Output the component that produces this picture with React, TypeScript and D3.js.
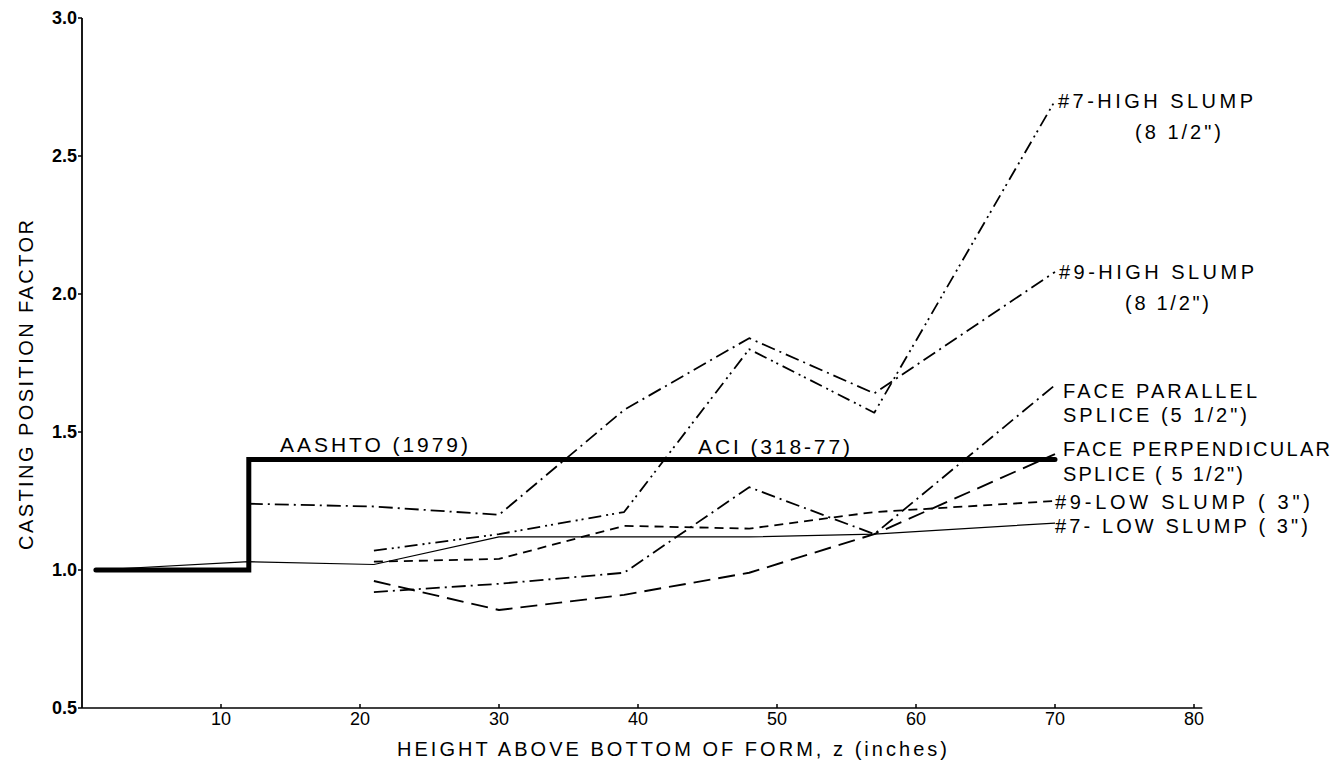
import React from "react";
import * as d3 from "d3";

// Axis ticks
const X_TICKS = [10, 20, 30, 40, 50, 60, 70, 80];
const Y_TICKS = [0.5, 1.0, 1.5, 2.0, 2.5, 3.0];

// Code provisions (AASHTO 1979 below 12 in., ACI 318-77 above)
const CODE_Z = [1, 12, 70];
const CODE_FACTOR = [1.0, 1.4, 1.4];

// Measured casting position factors vs. height above bottom of form (in.)
const HIGH7_Z = [21, 30, 39, 48, 57, 70];
const HIGH7 = [1.07, 1.13, 1.21, 1.8, 1.57, 2.7];

const HIGH9_Z = [12, 21, 30, 39, 48, 57, 70];
const HIGH9 = [1.24, 1.23, 1.2, 1.58, 1.84, 1.64, 2.08];

const PARALLEL_Z = [21, 30, 39, 48, 57, 70];
const PARALLEL = [0.92, 0.95, 0.99, 1.3, 1.13, 1.67];

const PERP_Z = [21, 30, 39, 48, 57, 70];
const PERP = [0.96, 0.855, 0.91, 0.99, 1.13, 1.42];

const LOW9_Z = [21, 30, 39, 48, 57, 70];
const LOW9 = [1.03, 1.04, 1.16, 1.15, 1.21, 1.25];

const LOW7_Z = [1, 12, 21, 30, 48, 57, 70];
const LOW7 = [1.0, 1.03, 1.02, 1.12, 1.12, 1.13, 1.17];

const FONT = "'Liberation Sans', Arial, sans-serif";

type Pt = [number, number];
const zip = (zs: number[], vs: number[]): Pt[] => zs.map((z, i) => [z, vs[i]]);

export default function App() {
  const W = 1339;
  const H = 765;
  const x = d3.scaleLinear().domain([0, 80]).range([82, 1194]);
  const y = d3.scaleLinear().domain([0.5, 3.0]).range([708, 18]);

  const line = d3
    .line<Pt>()
    .x((d) => x(d[0]))
    .y((d) => y(d[1]));
  const step = d3
    .line<Pt>()
    .x((d) => x(d[0]))
    .y((d) => y(d[1]))
    .curve(d3.curveStepAfter);

  const series = [
    { pts: zip(HIGH7_Z, HIGH7), dash: "13,5,2,4,2,5", w: 1.8 },
    { pts: zip(HIGH9_Z, HIGH9), dash: "14,5,2,5", w: 1.8 },
    { pts: zip(PARALLEL_Z, PARALLEL), dash: "14,5,2,5", w: 1.8 },
    { pts: zip(PERP_Z, PERP), dash: "17,8", w: 1.9 },
    { pts: zip(LOW9_Z, LOW9), dash: "9,6", w: 1.8 },
    { pts: zip(LOW7_Z, LOW7), dash: undefined, w: 1.2 },
  ];

  const endX = x(70);
  const fmt = d3.format(".1f");

  const txt = {
    fontFamily: FONT,
    fill: "#000",
  } as const;

  return (
    <svg
      width={W}
      height={H}
      viewBox={`0 0 ${W} ${H}`}
      style={{ position: "absolute", left: 0, top: 0, background: "#fff" }}
    >
      <rect x={0} y={0} width={W} height={H} fill="#fff" />

      {/* axes */}
      <line x1={x(0)} x2={x(0)} y1={y(0.5)} y2={y(3.0)} stroke="#000" strokeWidth={1.8} />
      <line x1={x(0)} x2={x(80.6)} y1={y(0.5)} y2={y(0.5)} stroke="#000" strokeWidth={1.6} />

      {Y_TICKS.map((t) => (
        <g key={`y${t}`}>
          <line x1={x(0) - 4} x2={x(0)} y1={y(t)} y2={y(t)} stroke="#000" strokeWidth={1.5} />
          <text
            x={x(0) - 5}
            y={y(t)}
            dy="0.36em"
            textAnchor="end"
            fontSize={18}
            fontWeight={700}
            {...txt}
          >
            {fmt(t)}
          </text>
        </g>
      ))}

      {X_TICKS.map((t) => (
        <g key={`x${t}`}>
          <line x1={x(t)} x2={x(t)} y1={y(0.5)} y2={y(0.5) - 4} stroke="#000" strokeWidth={1.5} />
          <text x={x(t)} y={725} textAnchor="middle" fontSize={18} {...txt}>
            {t}
          </text>
        </g>
      ))}

      <text x={672} y={756} textAnchor="middle" fontSize={20} textLength={550} {...txt}>
        HEIGHT ABOVE BOTTOM OF FORM, z (inches)
      </text>
      <text
        transform={`translate(33,385) rotate(-90)`}
        textAnchor="middle"
        fontSize={20}
        textLength={330}
        {...txt}
      >
        CASTING POSITION FACTOR
      </text>

      {/* measured series */}
      {series.map((s, i) => (
        <path
          key={i}
          d={line(s.pts) || ""}
          fill="none"
          stroke="#000"
          strokeWidth={s.w}
          strokeDasharray={s.dash}
          strokeLinejoin="round"
        />
      ))}

      {/* code provisions */}
      <path
        d={step(zip(CODE_Z, CODE_FACTOR)) || ""}
        fill="none"
        stroke="#000"
        strokeWidth={5}
        strokeLinecap="round"
      />
      <text x={280} y={452} fontSize={21} textLength={188} {...txt}>
        AASHTO (1979)
      </text>
      <text x={698} y={454} fontSize={21} textLength={152} {...txt}>
        ACI (318-77)
      </text>

      {/* series labels */}
      <text x={endX + 3} y={y(2.7)} dy="0.36em" fontSize={20} textLength={195} {...txt}>
        #7-HIGH SLUMP
      </text>
      <text x={endX + 80} y={y(2.7) + 31} dy="0.36em" fontSize={20} textLength={86} {...txt}>
        (8 1/2")
      </text>
      <text x={endX + 4} y={y(2.08)} dy="0.36em" fontSize={20} textLength={195} {...txt}>
        #9-HIGH SLUMP
      </text>
      <text x={endX + 70} y={y(2.08) + 31} dy="0.36em" fontSize={20} textLength={84} {...txt}>
        (8 1/2")
      </text>
      <text x={endX + 8} y={391} dy="0.36em" fontSize={20} textLength={194} {...txt}>
        FACE PARALLEL
      </text>
      <text x={endX + 8} y={415} dy="0.36em" fontSize={20} textLength={184} {...txt}>
        SPLICE (5 1/2")
      </text>
      <text x={endX + 8} y={449} dy="0.36em" fontSize={20} textLength={267} {...txt}>
        FACE PERPENDICULAR
      </text>
      <text x={endX + 8} y={474} dy="0.36em" fontSize={20} textLength={180} {...txt}>
        SPLICE ( 5 1/2")
      </text>
      <text x={endX} y={y(1.25) + 1} dy="0.36em" fontSize={20} textLength={255} {...txt}>
        #9-LOW SLUMP ( 3")
      </text>
      <text x={endX} y={y(1.17) + 3} dy="0.36em" fontSize={20} textLength={253} {...txt}>
        #7- LOW SLUMP ( 3")
      </text>
    </svg>
  );
}
